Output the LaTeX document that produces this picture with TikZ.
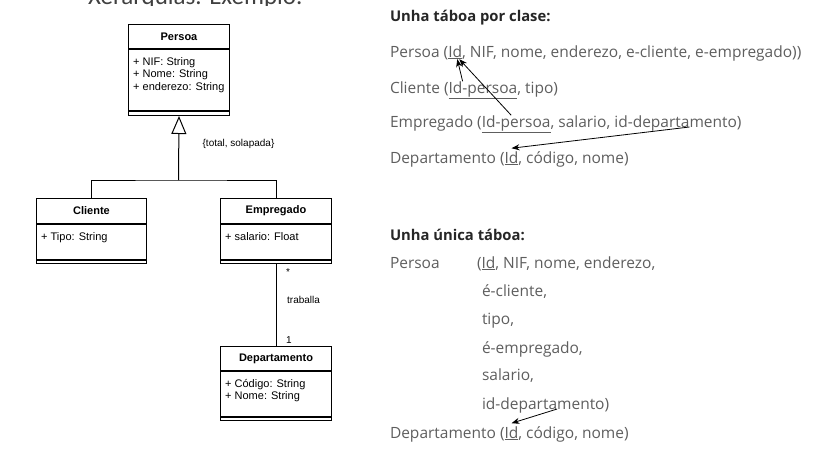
\documentclass[tikz,border=0pt]{standalone}
\usepackage{fontspec}
\setmainfont{Liberation Sans}
\newfontfamily\osans{Open Sans}
\newfontfamily\carl{Carlito}
\usetikzlibrary{positioning,arrows.meta}
\definecolor{txtgray}{HTML}{5E5E5E}
\definecolor{headgray}{HTML}{262626}
\definecolor{titlegray}{HTML}{404040}

\tikzset{
	uml/.style={draw, line width=1pt},
	clsname/.style={uml, anchor=north west, inner sep=0, font=\fontsize{11}{13}\selectfont\bfseries},
	cmp/.style={uml, inner sep=0},
	attr/.style={anchor=north west, inner sep=0, align=left, font=\fontsize{11}{12.5}\selectfont},
	lbl/.style={inner sep=0, font=\fontsize{10}{12}\selectfont},
	txt/.style={anchor=base west, inner sep=0, outer sep=0, text=txtgray, font=\osans\fontsize{15.5}{18}\selectfont},
	head/.style={txt, text=headgray, font=\osans\bfseries\fontsize{14.8}{18}\selectfont},
	fk/.style={draw, line width=0.8pt, -{Stealth[length=8pt,width=6pt]}}
}

\begin{document}
\begin{tikzpicture}[x=1pt,y=-1pt]
	\useasboundingbox (0,0) rectangle (817,451);

	% title, cut off at the top
	\begin{scope}
	\clip (0,0) rectangle (817,5);
	\node[anchor=base west, inner sep=0, text=titlegray, font=\carl\fontsize{25}{30}\selectfont] (title) at (88,4.5) {Xerarquías. Exemplo.};
	\end{scope}

	% classes
	\node[clsname, minimum width=101, minimum height=24] (persoa) at (128,24) {Persoa};
	\node[cmp, minimum width=101, minimum height=61, below=0pt of persoa] (persoaA) {};
	\node[cmp, minimum width=101, minimum height=4, below=0pt of persoaA] (persoaO) {};
	\node[attr, below right=8pt and 5pt of persoaA.north west] (persoaT) {+ NIF: String\\+ Nome: String\\+ enderezo: String};

	\node[clsname, minimum width=110, minimum height=25] (cliente) at (36,198) {Cliente};
	\node[cmp, minimum width=110, minimum height=35, below=0pt of cliente] (clienteA) {};
	\node[cmp, minimum width=110, minimum height=3, below=0pt of clienteA] (clienteO) {};
	\node[attr, below right=8pt and 5pt of clienteA.north west] (clienteT) {+ Tipo: String};

	\node[clsname, minimum width=111, minimum height=25] (empregado) at (220,198) {Empregado};
	\node[cmp, minimum width=111, minimum height=35, below=0pt of empregado] (empregadoA) {};
	\node[cmp, minimum width=111, minimum height=3, below=0pt of empregadoA] (empregadoO) {};
	\node[attr, below right=8pt and 5pt of empregadoA.north west] (empregadoT) {+ salario: Float};

	\node[clsname, minimum width=111, minimum height=24] (departamento) at (220,346) {Departamento};
	\node[cmp, minimum width=111, minimum height=45, below=0pt of departamento] (departamentoA) {};
	\node[cmp, minimum width=111, minimum height=3, below=0pt of departamentoA] (departamentoO) {};
	\node[attr, below right=8pt and 5pt of departamentoA.north west] (departamentoT) {+ Código: String\\+ Nome: String};

	% generalisation
	\coordinate (gen) at (178.5,180);
	\draw[uml, -{Triangle[open, length=18pt, width=15pt]}] (gen) -- (persoaO.south);
	\draw[uml] (cliente.north) |- (gen) -| (empregado.north);
	\node[lbl] (gset) at (238.5,144) {\{total, solapada\}};

	% association
	\draw[uml] (empregadoO.south) -- (departamento.north);
	\node[lbl] (mstar) at (288,272) {*};
	\node[lbl, anchor=west] (assoc) at (287,300) {traballa};
	\node[lbl] (mone) at (289,340) {1};

	% one table per class
	\node[head] (tit1) at (390,21) {Unha táboa por clase:};
	\node[txt] (p1a) at (390,57) {Persoa (};
	\node[txt] (p1id) at (p1a.base east) {\underline{Id}};
	\node[txt] (p1b) at (p1id.base east) {, NIF, nome, enderezo, e-cliente, e-empregado))};
	\node[txt] (c1a) at (390,93) {Cliente (};
	\node[txt] (c1id) at (c1a.base east) {\underline{Id-persoa}};
	\node[txt] (c1b) at (c1id.base east) {, tipo)};
	\node[txt] (e1a) at (390,127) {Empregado (};
	\node[txt] (e1id) at (e1a.base east) {\underline{Id-persoa}};
	\node[txt] (e1b) at (e1id.base east) {, salario, id-departa};
	\node[txt] (e1c) at (e1b.base east) {mento)};
	\node[txt] (d1a) at (390,163) {Departamento (};
	\node[txt] (d1id) at (d1a.base east) {\underline{Id}};
	\node[txt] (d1b) at (d1id.base east) {, código, nome)};

	\draw[fk] ([xshift=14pt]c1id.north west) -- ([xshift=2pt]p1id.south);
	\draw[fk] ([xshift=-5pt]e1id.north) -- ([xshift=4pt]p1id.south);
	\draw[fk] (e1c.base west) -- ([yshift=3pt]d1id.north);

	% one single table
	\node[head] (tit2) at (390,240) {Unha única táboa:};
	\node[txt] (p2a) at (390,268) {Persoa};
	\node[txt] (p2b) at (477,268) {(};
	\node[txt] (p2id) at (p2b.base east) {\underline{Id}};
	\node[txt] (p2c) at (p2id.base east) {, NIF, nome, enderezo,};
	\node[txt] (ecli) at (482,296) {é-cliente,};
	\node[txt] (tipo) at (482,324) {tipo,};
	\node[txt] (eemp) at (482,353) {é-empregado,};
	\node[txt] (sal) at (482,380) {salario,};
	\node[txt] (i2a) at (482,409) {id-departa};
	\node[txt] (i2b) at (i2a.base east) {mento)};
	\node[txt] (d2a) at (390,438) {Departamento (};
	\node[txt] (d2id) at (d2a.base east) {\underline{Id}};
	\node[txt] (d2b) at (d2id.base east) {, código, nome)};

	\draw[fk] (i2a.base east) -- ([yshift=3pt]d2id.north);
\end{tikzpicture}
\end{document}
